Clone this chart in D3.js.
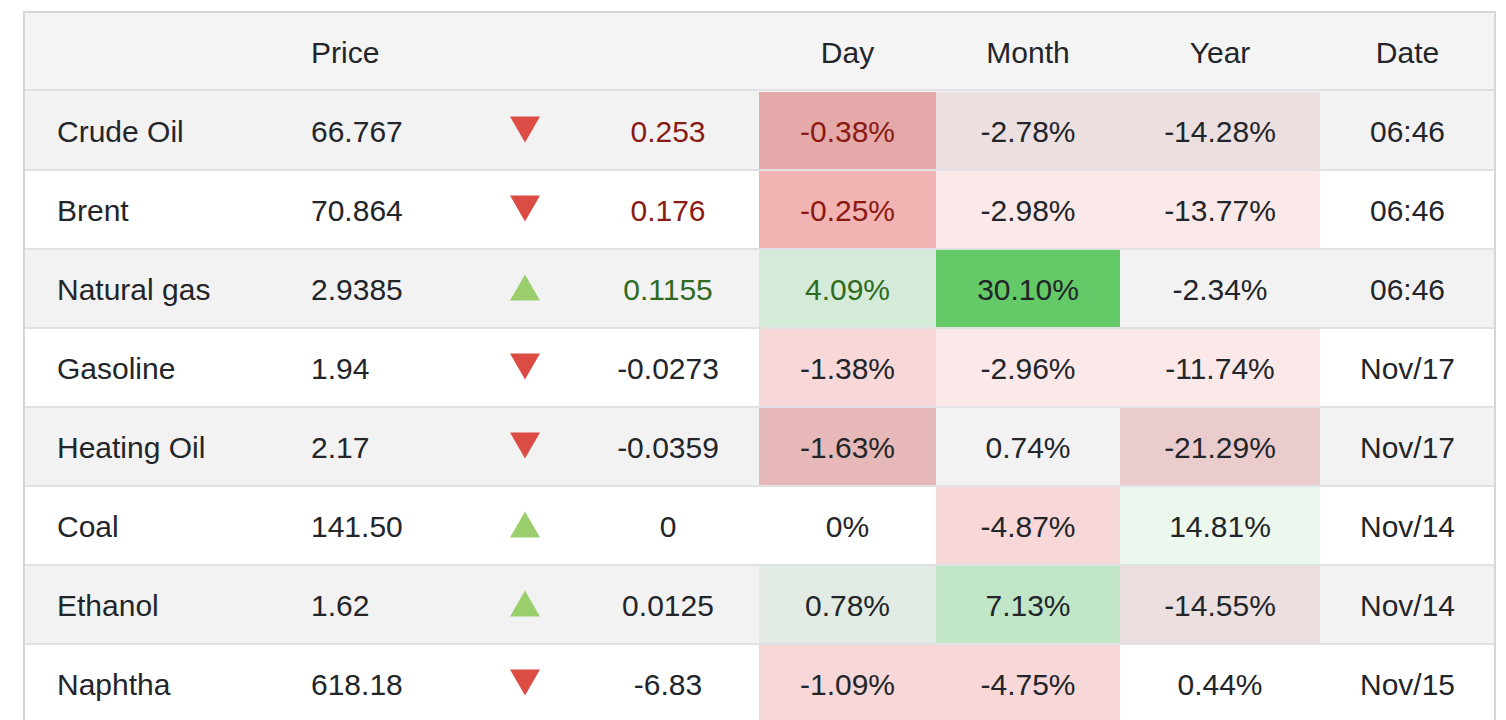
<!DOCTYPE html>
<html><head><meta charset="utf-8">
<script src="https://cdn.jsdelivr.net/npm/d3@7"></script>
<style>
html,body{margin:0;padding:0;background:#fff;}
svg{display:block;font-family:"Liberation Sans",Arial,Helvetica,sans-serif;}
</style></head>
<body><svg id="chart" width="1506" height="720"></svg>
<script>
// ---- data ----
const commodities = ["Crude Oil","Brent","Natural gas","Gasoline","Heating Oil","Coal","Ethanol","Naphtha"];
const prices = ["66.767","70.864","2.9385","1.94","2.17","141.50","1.62","618.18"];
const direction = ["down","down","up","down","down","up","up","down"];
const changes = ["0.253","0.176","0.1155","-0.0273","-0.0359","0","0.0125","-6.83"];
const dayPct = ["-0.38%","-0.25%","4.09%","-1.38%","-1.63%","0%","0.78%","-1.09%"];
const monthPct = ["-2.78%","-2.98%","30.10%","-2.96%","0.74%","-4.87%","7.13%","-4.75%"];
const yearPct = ["-14.28%","-13.77%","-2.34%","-11.74%","-21.29%","14.81%","-14.55%","0.44%"];
const dates = ["06:46","06:46","06:46","Nov/17","Nov/17","Nov/14","Nov/14","Nov/15"];
const headers = ["", "Price", "", "", "Day", "Month", "Year", "Date"];

// ---- styles (cell shading as in the reference) ----
const dayFill   = ["#e5a9a9","#f2b3b3","#d3ebd8","#f7d7d7","#e6b8b8",null,"#e1ebe3","#f7d7d7"];
const monthFill = ["#ecdfdf","#fbe8e8","#64c967","#fbe8e8",null,"#f7d7d7","#c1e6c7","#f7d7d7"];
const yearFill  = ["#ecdfdf","#fbe8e8",null,"#fbe8e8","#ebcccc","#ecf8ee","#ecdfdf",null];
const changeColor = ["#8a1a12","#8a1a12","#2f6b1f",null,null,null,null,null];
const dayColor    = ["#8a1a12","#8a1a12","#2f6b1f",null,null,null,null,null];

const W = 1506, H = 720;
const svg = d3.select("#chart");
const textColor = "#222529";
const fontSize = 30;

const tLeft = 24, tRight = 1495, tTop = 12, headerH = 78, rowH = 79;
const y = d3.scaleBand().domain(d3.range(commodities.length))
  .range([tTop + headerH + 1, tTop + headerH + 1 + rowH * commodities.length]).padding(0);

// column layout
const cols = [
  {x0: tLeft, x1: 290, anchor: "start", tx: 57},
  {x0: 290, x1: 470, anchor: "start", tx: 311},
  {x0: 470, x1: 580, anchor: "middle", tx: 525},
  {x0: 580, x1: 759, anchor: "middle", tx: 668},
  {x0: 759, x1: 936, anchor: "middle", tx: 847.5},
  {x0: 936, x1: 1120, anchor: "middle", tx: 1028},
  {x0: 1120, x1: 1320, anchor: "middle", tx: 1220},
  {x0: 1320, x1: tRight, anchor: "middle", tx: 1407.5}
];

// header background
svg.append("rect").attr("x", tLeft).attr("y", tTop).attr("width", tRight - tLeft).attr("height", headerH)
  .attr("fill", "#f4f4f4");
svg.selectAll("text.hdr").data(headers).join("text").attr("class","hdr")
  .attr("x", (d,i) => cols[i].tx).attr("y", tTop + headerH/2 + 1)
  .attr("text-anchor", (d,i) => cols[i].anchor).attr("dominant-baseline","central")
  .attr("font-size", fontSize).attr("fill", textColor).text(d => d);

// rows
const rows = svg.selectAll("g.row").data(commodities).join("g").attr("class","row")
  .attr("transform", (d,i) => `translate(0,${y(i)})`);
rows.append("rect").attr("x", tLeft).attr("y", 0).attr("width", tRight - tLeft).attr("height", y.bandwidth())
  .attr("fill", (d,i) => i % 2 === 0 ? "#f2f2f2" : "#ffffff");

const fills = [dayFill, monthFill, yearFill];
rows.each(function(d,i){
  const g = d3.select(this);
  fills.forEach((arr, k) => {
    if (arr[i]) {
      const c = cols[4 + k];
      g.append("rect").attr("x", c.x0).attr("y", 1).attr("width", c.x1 - c.x0).attr("height", y.bandwidth() - 2)
        .attr("fill", arr[i]);
    }
  });
  const cy = y.bandwidth()/2 + 1;
  const values = [d, prices[i], null, changes[i], dayPct[i], monthPct[i], yearPct[i], dates[i]];
  const colors = [null, null, null, changeColor[i], dayColor[i], null, null, null];
  values.forEach((v, k) => {
    if (v === null) return;
    g.append("text").attr("x", cols[k].tx).attr("y", cy)
      .attr("text-anchor", cols[k].anchor).attr("dominant-baseline","central")
      .attr("font-size", fontSize).attr("fill", colors[k] || textColor).text(v);
  });
  const ax = cols[2].tx, ay = cy - 2, hw = 15, hh = 13;
  const pts = direction[i] === "down"
    ? [[ax-hw, ay-hh],[ax+hw, ay-hh],[ax, ay+hh]]
    : [[ax-hw, ay+hh],[ax+hw, ay+hh],[ax, ay-hh]];
  g.append("path").attr("d", d3.line()(pts) + "Z")
    .attr("fill", direction[i] === "down" ? "#db4c44" : "#9bcf6e");
});

// horizontal separators
const lines = [tTop + headerH].concat(d3.range(commodities.length).map(i => y(i) + y.bandwidth()));
svg.selectAll("line.sep").data(lines).join("line").attr("class","sep")
  .attr("x1", tLeft).attr("x2", tRight).attr("y1", d => d).attr("y2", d => d)
  .attr("stroke", "#dfe1e4").attr("stroke-width", 2);

// outer border
svg.append("path").attr("d", `M${tLeft},${H+5}V${tTop}H${tRight}V${H+5}`)
  .attr("fill","none").attr("stroke","#d6d6d6").attr("stroke-width", 2);
</script></body></html>
